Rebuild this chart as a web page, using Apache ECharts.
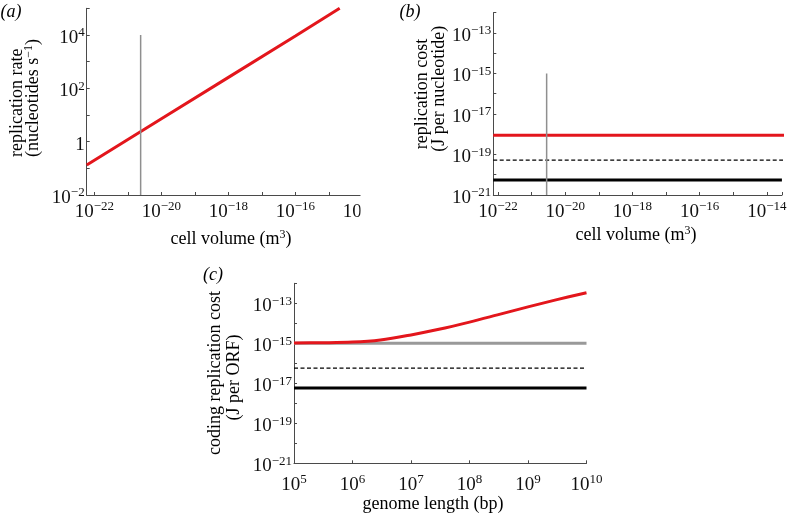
<!DOCTYPE html>
<html><head><meta charset="utf-8">
<script src="https://cdn.jsdelivr.net/npm/echarts@6/dist/echarts.min.js"></script>
<style>html,body{margin:0;padding:0;background:#fff}#c{width:790px;height:518px}</style>
</head><body><div id="c"></div>
<script>
// ---- Panel (a): replication rate vs cell volume ----
const aVolume = [5.9e-23, 1e-20, 1e-18, 1e-16, 2.1e-15];
const aRate   = [0.133, 7.2, 257, 9100, 1e5];
const aMarkerVolume = 2.4e-21;
const aMarkerRange  = [0.01, 1e4];
// ---- Panel (b): replication cost per nucleotide vs cell volume ----
const bMarkerVolume = 2.8e-21;
const bMarkerRange  = [1e-21, 1e-15];
const bRedVolume = [7.2e-23, 5e-14];
const bRedCost = 8.8e-19;
const bDashedVolume = [7.2e-23, 4e-14];
const bDashedCost = 5.3e-20;
const bBlackVolume = [7.2e-23, 2.8e-14];
const bBlackCost = 5.5e-21;
// ---- Panel (c): coding replication cost vs genome length ----
const cGenome = [1e5, 3e5, 1e6, 3e6, 1e7, 3e7, 1e8, 3e8, 1e9, 3e9, 1e10];
const cRedCost = [1.05e-15, 1.07e-15, 1.15e-15, 1.48e-15, 2.63e-15, 5.0e-15, 1.15e-14, 2.63e-14, 6.6e-14, 1.48e-13, 3.4e-13];
const cGreyCost = 1e-15;
const cDashedCost = 5.8e-17;
const cBlackCost = 5.8e-18;

const FONT = '"Liberation Serif", "DejaVu Serif", serif';
const RED = '#e3161c', GREY = '#8f8f8f', AX = '#4a4a4a';

// axis ranges in data units
const aX = [Math.pow(10, -22.23), Math.pow(10, -13.6)];
const aY = [1e-2, 1e5];
const bX = [Math.pow(10, -22.14), Math.pow(10, -13.55)];
const bY = [1e-21, 1e-12];
const cX = [1e5, 1e10];
const cY = [1e-21, 1e-12];

// ECharts rounds very small numbers; feed it values shifted by 10^K and undo in labels
const K = 30;
const sh = (v, k) => v * Math.pow(10, k);

function fmt(parity, k) {
  return function (v) {
    const e = Math.log10(v), r0 = Math.round(e);
    if (Math.abs(e - r0) > 1e-6) return '';
    const r = r0 - k;
    if (parity !== null && (((r % 2) + 2) % 2) !== parity) return '';
    if (r === 0) return '{b|1}';
    return '{b|10}{s|' + (r < 0 ? '\u2212' : '') + Math.abs(r) + '}';
  };
}
const richX = {
  b: {fontSize: 19, lineHeight: 22, fontFamily: FONT, color: '#111'},
  s: {fontSize: 13, lineHeight: 13, padding: [0, 0, 10, 0], fontFamily: FONT, color: '#111'}
};
const richY = {
  b: {fontSize: 19, lineHeight: 22, padding: [6, 0, 0, 0], fontFamily: FONT, color: '#111'},
  s: {fontSize: 13, lineHeight: 13, padding: [0, 0, 4, 0], fontFamily: FONT, color: '#111'}
};
function logAxis(gi, range, k, parity, rich, margin) {
  return {
    type: 'log', logBase: 10, gridIndex: gi, min: sh(range[0], k), max: sh(range[1], k),
    axisLine: {show: true, lineStyle: {color: AX, width: 1}},
    axisTick: {show: true, inside: true, length: 3, lineStyle: {color: AX}},
    splitLine: {show: false},
    axisLabel: {interval: 0, margin: margin, formatter: fmt(parity, k), rich: rich}
  };
}
const KX = [K, K, 0], KY = [0, K, K];
function pts(gi, xs, ys) { return xs.map((x, i) => [sh(x, KX[gi]), sh(ys[i], KY[gi])]); }
function line(gi, xs, ys, color, width, type, z, extra) {
  return Object.assign({type: 'line', xAxisIndex: gi, yAxisIndex: gi, data: pts(gi, xs, ys), showSymbol: false, symbol: 'none',
    silent: true, z: z || 2, lineStyle: {color: color, width: width, type: type || 'solid'}}, extra || {});
}
const titleT = {fontSize: 18, lineHeight: 20, fontFamily: FONT, color: '#111'};
const titleS = {fontSize: 12, lineHeight: 12, padding: [0, 0, 9, 0], fontFamily: FONT, color: '#111'};
function txt(x, y, text, rot, italic) {
  return {type: 'text', x: x, y: y, rotation: rot ? Math.PI / 2 : 0, z: 120,
    style: {text: text, align: 'center', verticalAlign: 'middle',
      rich: {t: Object.assign({}, titleT, italic ? {fontStyle: 'italic'} : {}), s: titleS}}};
}
const noClip = {clip: false};

const option = {
  animation: false,
  backgroundColor: '#fff',
  grid: [
    {left: 86.7, top: 8.3, width: 289.1, height: 186.7},
    {left: 493.3, top: 12.7, width: 288.7, height: 182.3},
    {left: 294, top: 283.3, width: 292.5, height: 180}
  ],
  xAxis: [
    logAxis(0, aX, KX[0], 0, richX, 6),
    logAxis(1, bX, KX[1], 0, richX, 6),
    logAxis(2, cX, KX[2], null, richX, 10.5)
  ],
  yAxis: [
    logAxis(0, aY, KY[0], 0, richY, 2),
    logAxis(1, bY, KY[1], 1, richY, 2),
    logAxis(2, cY, KY[2], 1, richY, 2)
  ],
  series: [
    line(0, aVolume, aRate, RED, 3),
    line(0, [aMarkerVolume, aMarkerVolume], aMarkerRange, GREY, 1.5, 'solid', 3),
    line(1, bRedVolume, [bRedCost, bRedCost], RED, 3, 'solid', 2, noClip),
    line(1, bDashedVolume, [bDashedCost, bDashedCost], '#000', 1.2, [4, 2.5], 2, noClip),
    line(1, bBlackVolume, [bBlackCost, bBlackCost], '#000', 3, 'solid', 2, noClip),
    line(1, [bMarkerVolume, bMarkerVolume], bMarkerRange, GREY, 1.5, 'solid', 3),
    line(2, cX, [cGreyCost, cGreyCost], '#999', 3),
    line(2, cGenome, cRedCost, RED, 3, 'solid', 3, {smooth: 0.35}),
    line(2, cX, [cDashedCost, cDashedCost], '#000', 1.2, [4, 2.5]),
    line(2, cX, [cBlackCost, cBlackCost], '#000', 3)
  ],
  graphic: [
    {type: 'rect', shape: {x: 360.5, y: 0, width: 32, height: 250}, style: {fill: '#fff'}, z: 100},
    txt(11, 12, '{t|(a)}', false, true),
    txt(410, 12, '{t|(b)}', false, true),
    txt(213, 275, '{t|(c)}', false, true),
    txt(231, 239, '{t|cell volume (m}{s|3}{t|)}'),
    txt(636, 235, '{t|cell volume (m}{s|3}{t|)}'),
    txt(433, 504, '{t|genome length (bp)}'),
    txt(17, 102.7, '{t|replication rate}', true),
    txt(33, 98, '{t|(nucleotides s}{s|\u22121}{t|)}', true),
    txt(422.5, 94, '{t|replication cost}', true),
    txt(439, 88.7, '{t|(J per nucleotide)}', true),
    txt(215, 373, '{t|coding replication cost}', true),
    txt(234, 377.5, '{t|(J per ORF)}', true)
  ]
};
echarts.init(document.getElementById('c'), null, {renderer: 'canvas'}).setOption(option);
</script></body></html>
